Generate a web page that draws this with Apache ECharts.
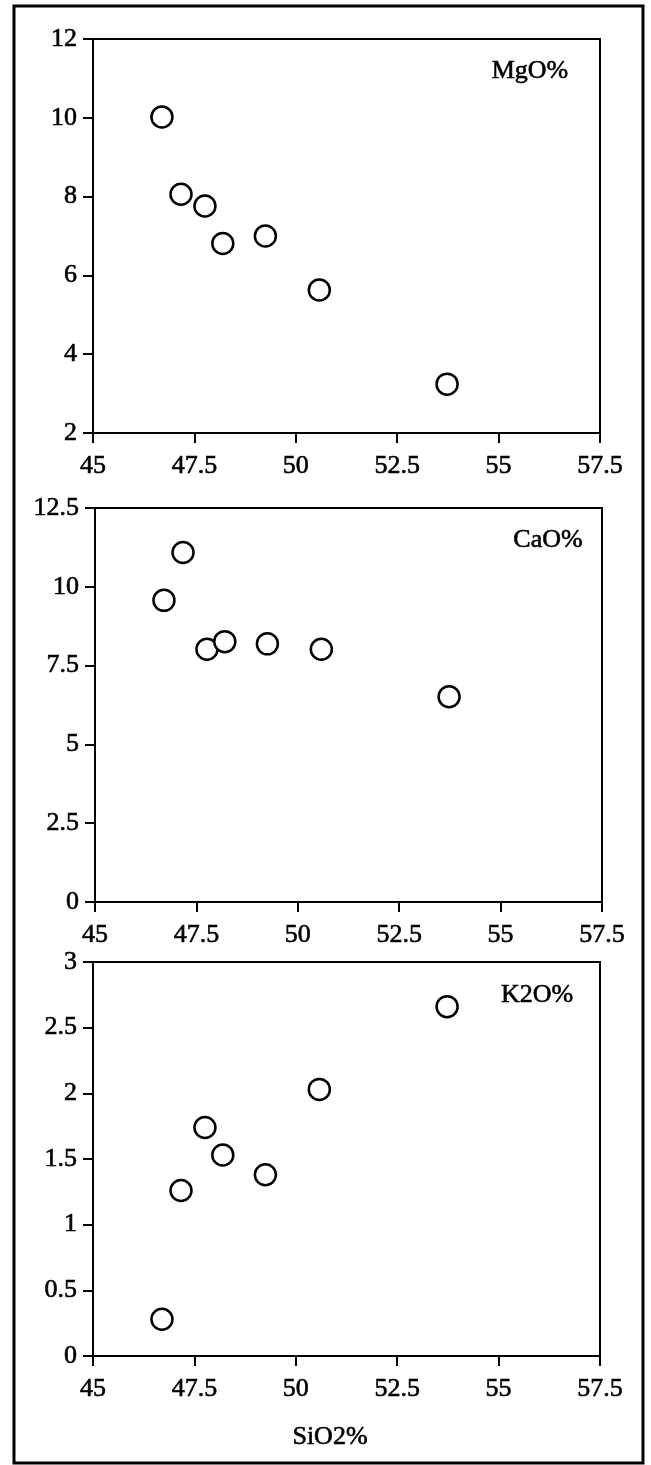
<!DOCTYPE html>
<html>
<head>
<meta charset="utf-8">
<script src="https://cdn.jsdelivr.net/npm/echarts@6/dist/echarts.min.js"></script>
<style>
html,body{margin:0;padding:0;background:#fff;}
#chart{width:651px;height:1465px;}
</style>
</head>
<body>
<div id="chart"></div>
<script>
// ---- data ----
var sio2 = [46.70, 47.17, 47.76, 48.20, 49.25, 50.58, 53.73];
var mgo  = [10.02, 8.06, 7.76, 6.81, 7.00, 5.63, 3.24];
var cao  = [9.57, 11.09, 8.02, 8.26, 8.19, 8.02, 6.51];
var k2o  = [0.28, 1.26, 1.74, 1.53, 1.38, 2.03, 2.66];
var panelNames = ['MgO%', 'CaO%', 'K2O%'];
var xName = 'SiO2%';
var xTicks = [45, 47.5, 50, 52.5, 55, 57.5];
var yRanges = [[2, 12, 2], [0, 12.5, 2.5], [0, 3, 0.5]];

var FONT = '"Liberation Serif", "DejaVu Serif", serif';
var grids = [
  {left: 93, top: 39, width: 507, height: 394},
  {left: 95, top: 508, width: 507, height: 394},
  {left: 93, top: 962, width: 507, height: 394}
];
var labelPos = [[530, 71], [548, 540], [537, 995]];
var ys = [mgo, cao, k2o];

function pairs(ysArr){ return sio2.map(function(x,i){ return [x, ysArr[i]]; }); }

var labelStyle = {color: '#000', fontFamily: FONT, fontSize: 26, textBorderColor: '#000', textBorderWidth: 0.6,
  showMinLabel: true, showMaxLabel: true, hideOverlap: false};

var option = {
  backgroundColor: '#fff',
  animation: false,
  grid: grids.map(function(g){
    return Object.assign({show: true, borderColor: '#000', borderWidth: 2, backgroundColor: 'transparent'}, g);
  }),
  xAxis: grids.map(function(g, i){
    return {
      type: 'value', gridIndex: i,
      min: xTicks[0], max: xTicks[xTicks.length-1], interval: xTicks[1]-xTicks[0],
      axisLine: {show: true, onZero: false, lineStyle: {color: '#000', width: 2}},
      axisTick: {show: true, inside: false, length: 10, lineStyle: {color: '#000', width: 2}},
      splitLine: {show: false},
      axisLabel: Object.assign({margin: 20}, labelStyle)
    };
  }),
  yAxis: grids.map(function(g, i){
    var r = yRanges[i];
    return {
      type: 'value', gridIndex: i,
      min: r[0], max: r[1], interval: r[2],
      axisLine: {show: true, onZero: false, lineStyle: {color: '#000', width: 2}},
      axisTick: {show: true, inside: false, length: 10, lineStyle: {color: '#000', width: 2}},
      splitLine: {show: false},
      axisLabel: Object.assign({margin: 16}, labelStyle)
    };
  }),
  series: ys.map(function(arr, i){
    return {
      type: 'scatter', xAxisIndex: i, yAxisIndex: i,
      data: pairs(arr),
      symbol: 'circle', symbolSize: 21,
      itemStyle: {color: '#fff', borderColor: '#000', borderWidth: 2.5, opacity: 1}
    };
  }),
  graphic: [
    {type: 'rect', shape: {x: 14, y: 6, width: 629, height: 1457}, style: {fill: 'none', stroke: '#000', lineWidth: 3}, silent: true, z: 10}
  ].concat(panelNames.map(function(n, i){
    return {type: 'text', x: labelPos[i][0], y: labelPos[i][1],
      style: {text: n, font: '26px ' + FONT, fill: '#000', stroke: '#000', lineWidth: 0.6, textAlign: 'center', textVerticalAlign: 'middle'}};
  })).concat([
    {type: 'text', x: 330, y: 1437, style: {text: xName, font: '26px ' + FONT, fill: '#000', stroke: '#000', lineWidth: 0.6, textAlign: 'center', textVerticalAlign: 'middle'}}
  ])
};

var chart = echarts.init(document.getElementById('chart'), null, {renderer: 'canvas'});
chart.setOption(option);
</script>
</body>
</html>
